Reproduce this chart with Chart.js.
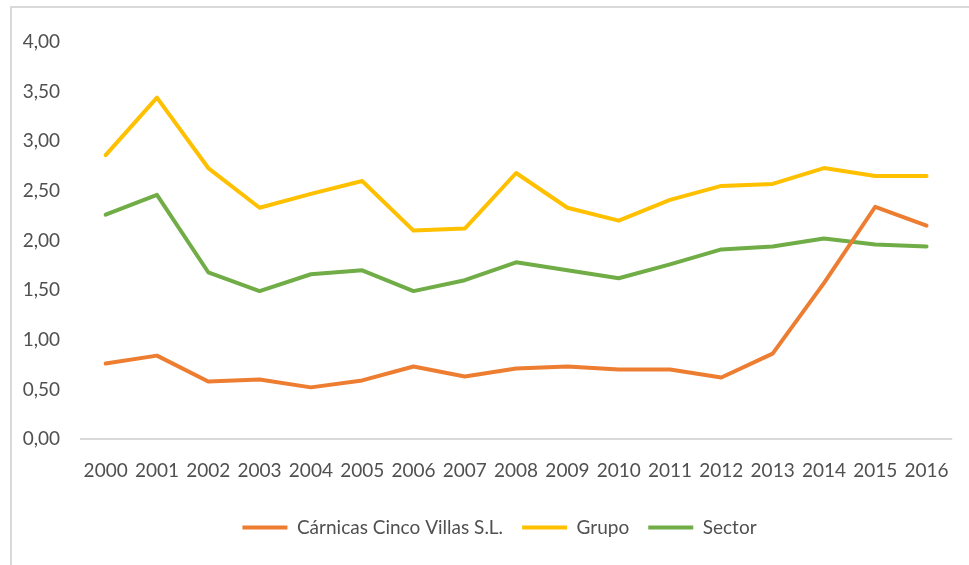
<!DOCTYPE html>
<html>
<head>
<meta charset="utf-8">
<script src="https://cdn.jsdelivr.net/npm/chart.js@4/dist/chart.umd.min.js"></script>
<style>
  html, body { margin: 0; padding: 0; background: #fff; }
  #wrap { position: relative; width: 969px; height: 565px; overflow: hidden; }
  #frame { position: absolute; left: 10px; top: 6px; width: 1000px; height: 600px; border-left: 2px solid #d9d9d9; border-top: 2px solid #d9d9d9; box-sizing: border-box; }
  canvas { position: absolute; left: 0; top: 0; }
</style>
</head>
<body>
<div id="wrap">
  <div id="frame"></div>
  <canvas id="c" width="969" height="565"></canvas>
</div>
<script>
const years = ["2000","2001","2002","2003","2004","2005","2006","2007","2008","2009","2010","2011","2012","2013","2014","2015","2016"];
const carnicas = [0.76,0.84,0.58,0.60,0.52,0.59,0.73,0.63,0.71,0.73,0.70,0.70,0.62,0.86,1.57,2.34,2.15];
const grupo = [2.86,3.44,2.73,2.33,2.47,2.60,2.10,2.12,2.68,2.33,2.20,2.41,2.55,2.57,2.73,2.65,2.65];
const sector = [2.26,2.46,1.68,1.49,1.66,1.70,1.49,1.60,1.78,1.70,1.62,1.76,1.91,1.94,2.02,1.96,1.94];
const seriesNames = ["Cárnicas Cinco Villas S.L.", "Grupo", "Sector"];
const yTicks = [0,0.5,1,1.5,2,2.5,3,3.5,4];

const colors = ["#ED7D31", "#FFC000", "#70AD47"];
const fontFamily = "Lato, 'Open Sans', sans-serif";

function ds(label, data, color) {
  return {
    label, data,
    borderColor: color, backgroundColor: color,
    borderWidth: 4, pointRadius: 0, pointHoverRadius: 0,
    tension: 0, borderCapStyle: 'round', borderJoinStyle: 'round', fill: false
  };
}

const legendShift = {
  id: 'legendShift',
  afterLayout(chart) {
    if (chart.legend) { chart.legend.left += 17; chart.legend.right += 17; }
  }
};

new Chart(document.getElementById('c'), {
  type: 'line',
  data: {
    labels: years,
    datasets: [
      ds(seriesNames[0], carnicas, colors[0]),
      ds(seriesNames[1], grupo, colors[1]),
      ds(seriesNames[2], sector, colors[2])
    ]
  },
  plugins: [legendShift],
  options: {
    responsive: false,
    animation: false,
    devicePixelRatio: 1,
    layout: { padding: { left: 10, right: 14, top: 42, bottom: 18 } },
    font: { family: fontFamily },
    plugins: {
      tooltip: { enabled: false },
      legend: {
        position: 'bottom',
        labels: {
          color: '#505050',
          font: { family: fontFamily, size: 19 },
          boxWidth: 45,
          boxHeight: 4,
          padding: 19,
          generateLabels(chart) {
            return chart.data.datasets.map((d, i) => ({
              text: d.label, fillStyle: d.borderColor, strokeStyle: d.borderColor,
              lineWidth: 0, hidden: false, datasetIndex: i, fontColor: '#505050'
            }));
          }
        }
      }
    },
    scales: {
      x: {
        offset: true,
        grid: { display: false, drawTicks: false },
        border: { display: false },
        ticks: { color: '#505050', font: { family: fontFamily, size: 19 }, padding: 20, maxRotation: 0, autoSkip: false },
        afterFit(scale) { scale.height = 60; }
      },
      y: {
        min: 0, max: 4,
        afterBuildTicks(scale) { scale.ticks = yTicks.map(v => ({ value: v })); },
        grid: {
          drawTicks: false,
          lineWidth: 2,
          color: ctx => (ctx.tick && ctx.tick.value === 0) ? '#d9d9d9' : 'rgba(0,0,0,0)'
        },
        border: { display: false },
        ticks: {
          color: '#505050', font: { family: fontFamily, size: 19 }, padding: 20,
          callback: v => Number(v).toFixed(2).replace('.', ',')
        },
        afterFit(scale) { scale.width = 70; }
      }
    }
  }
});
</script>
</body>
</html>
